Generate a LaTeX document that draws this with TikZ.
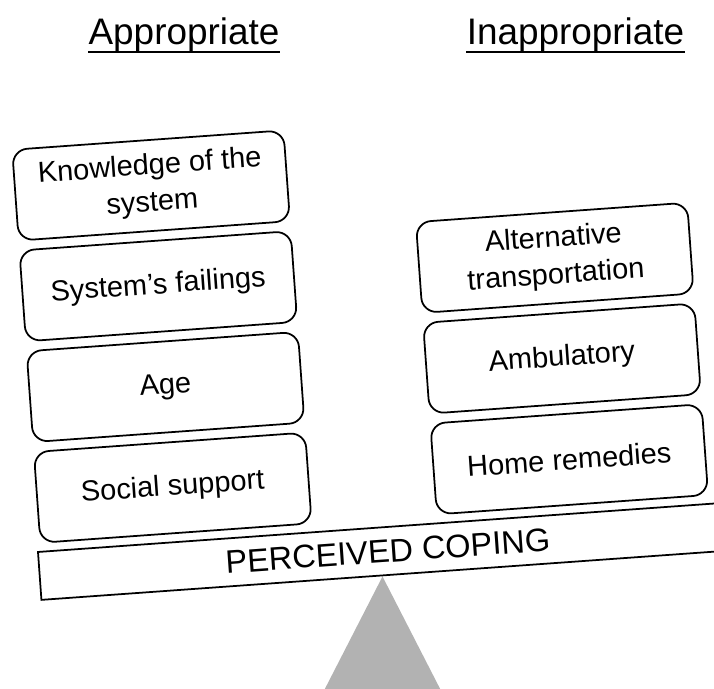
\documentclass[tikz,border=0pt]{standalone}
\usepackage{fontspec}
\setmainfont{Liberation Sans}

\tikzset{
  factor/.style={draw, line width=1pt, rounded corners=0.3cm, fill=white,
    minimum width=5.44cm, minimum height=1.82cm, inner sep=2pt, align=center,
    font=\fontsize{16.5}{21}\selectfont},
  heading/.style={inner sep=0pt, anchor=base, font=\fontsize{21}{25}\selectfont},
  plank/.style={draw, line width=1pt, fill=white},
  pivot/.style={fill=black!30},
}

\begin{document}
\begin{tikzpicture}
        \useasboundingbox (0,0) rectangle (14.28,13.78);

        % column headings
        \node[heading] (app) at (3.68,12.88) {Appropriate};
        \node[heading] (inapp) at (11.51,12.88) {Inappropriate};
        \draw[line width=1pt] ([yshift=-0.14cm]app.base west) -- ([yshift=-0.14cm]app.base east);
        \draw[line width=1pt] ([yshift=-0.14cm]inapp.base west) -- ([yshift=-0.14cm]inapp.base east);

        % fulcrum
        \coordinate (apex) at (7.65,2.25);
        \fill[pivot] (apex) -- ++(-1.22,-2.38) -- ++(2.44,0) -- cycle;

        % tilted beam with the two stacks on it
        \begin{scope}[shift={(0.76,2.74)}, rotate=4.1, transform shape]
            \draw[plank] (0,0) rectangle (14,-0.96);
            \node[font=\fontsize{18.5}{21}\selectfont] (coping) at (6.98,-0.48) {PERCEIVED COPING};

            \node[factor] (social) at (2.78,1.09) {Social support};
            \node[factor] (age) at (2.78,3.11) {Age};
            \node[factor] (fail) at (2.78,5.13) {System's failings};
            \node[factor] (know) at (2.78,7.15) {Knowledge of the\\system};

            \node[factor] (home) at (10.73,1.09) {Home remedies};
            \node[factor] (amb) at (10.73,3.11) {Ambulatory};
            \node[factor] (alt) at (10.73,5.13) {Alternative\\transportation};
        \end{scope}
\end{tikzpicture}
\end{document}
